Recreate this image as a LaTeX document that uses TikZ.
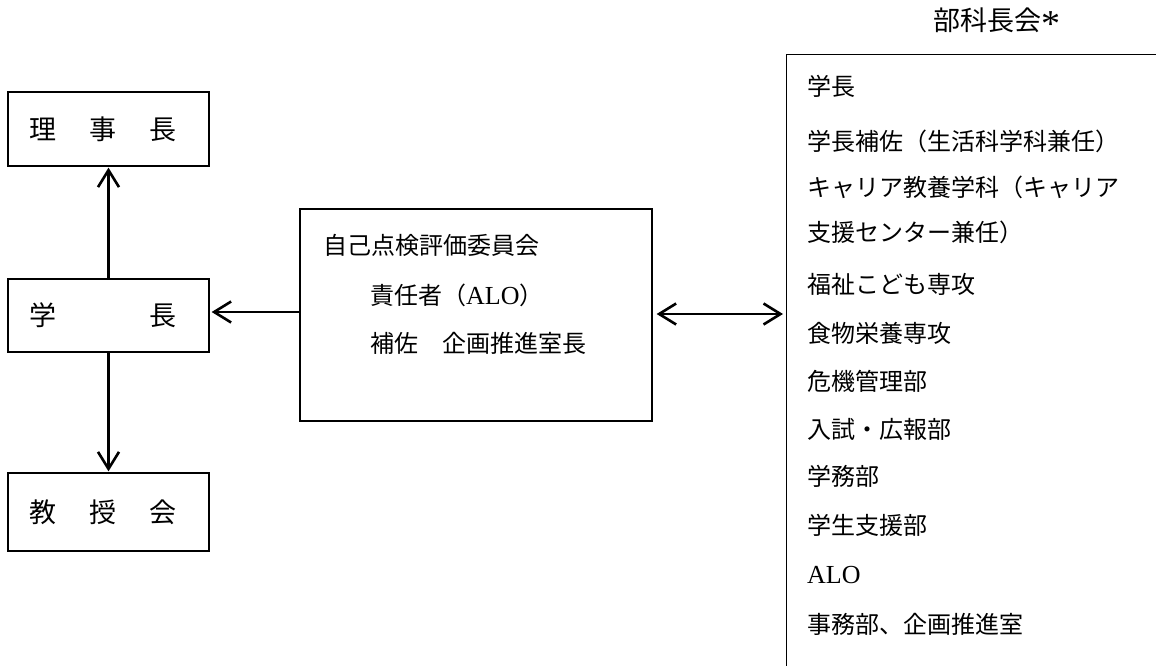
\documentclass[tikz,border=0pt]{standalone}
\usepackage{fontspec}
\setmainfont{Noto Sans CJK JP}
\newfontfamily\lat{Liberation Serif}
\usetikzlibrary{arrows.meta}
\tikzset{
  box/.style={draw, line width=1.3pt, rectangle, inner sep=0pt},
  conn/.style={line width=2.6pt, -{Straight Barb[length=17pt,width=21pt]}},
  dconn/.style={line width=2.6pt, {Straight Barb[length=17pt,width=21pt]}-{Straight Barb[length=17pt,width=21pt]}},
  big/.style={font=\fontsize{27pt}{30pt}\selectfont, inner sep=0pt},
  txt/.style={font=\fontsize{24pt}{28pt}\selectfont, anchor=west, inner sep=0pt},
}
\newcommand\alo{{\lat\fontsize{26pt}{28pt}\selectfont ALO}}
\begin{document}
\begin{tikzpicture}[x=1pt,y=-1pt]
\useasboundingbox (0,0) rectangle (1156,666);
\clip (0,0) rectangle (1156,666);
% left boxes
\node[box, minimum width=201pt, minimum height=74pt] (rij) at (108.5,129) {};
\node[box, minimum width=201pt, minimum height=73pt] (gak) at (108.5,315.5) {};
\node[box, minimum width=201pt, minimum height=78pt] (kyo) at (108.5,512) {};
\node[big, anchor=west] (rijt) at (29.5,129) {理\hspace{33pt}事\hspace{33pt}長};
\node[big, anchor=west] (gakt) at (29.5,315) {学\hspace{93pt}長};
\node[big, anchor=west] (kyot) at (29.5,512) {教\hspace{33pt}授\hspace{33pt}会};
% middle box
\node[box, minimum width=352pt, minimum height=212pt] (jik) at (476,315) {};
\node[txt] (m1) at (323,245) {自己点検評価委員会};
\node[txt] (m2) at (370,295) {責任者（\alo）};
\node[txt] (m3) at (370,343) {補佐　企画推進室長};
% right box (extends past the picture edge)
\node[box, minimum width=420pt, minimum height=660pt, anchor=north west] (bu) at (786,54) {};
\node[font=\fontsize{27pt}{30pt}\selectfont, inner sep=0pt, anchor=west] (title) at (933,22) {部科長会{\lat\fontsize{38pt}{38pt}\selectfont\raisebox{-6pt}{*}}};
\node[txt] (r1) at (807,86) {学長};
\node[txt] (r2) at (807,141) {学長補佐（生活科学科兼任）};
\node[txt] (r3) at (807,187) {キャリア教養学科（キャリア};
\node[txt] (r4) at (807,232) {支援センター兼任）};
\node[txt] (r5) at (807,284) {福祉こども専攻};
\node[txt] (r6) at (807,333) {食物栄養専攻};
\node[txt] (r7) at (807,381) {危機管理部};
\node[txt] (r8) at (807,429) {入試・広報部};
\node[txt] (r9) at (807,476) {学務部};
\node[txt] (r10) at (807,525) {学生支援部};
\node[txt] (r11) at (807,575) {\alo};
\node[txt] (r12) at (807,624) {事務部、企画推進室};
% connectors
\draw[conn] (gak.north) -- ([yshift=-1pt]rij.south);
\draw[conn] (gak.south) -- ([yshift=1pt]kyo.north);
\draw[conn] (jik.west |- 0,312) -- ([xshift=2pt]gak.east |- 0,312);
\draw[dconn] ([xshift=4pt]jik.east |- 0,314) -- ([xshift=-3pt]bu.west |- 0,314);
\end{tikzpicture}
\end{document}
